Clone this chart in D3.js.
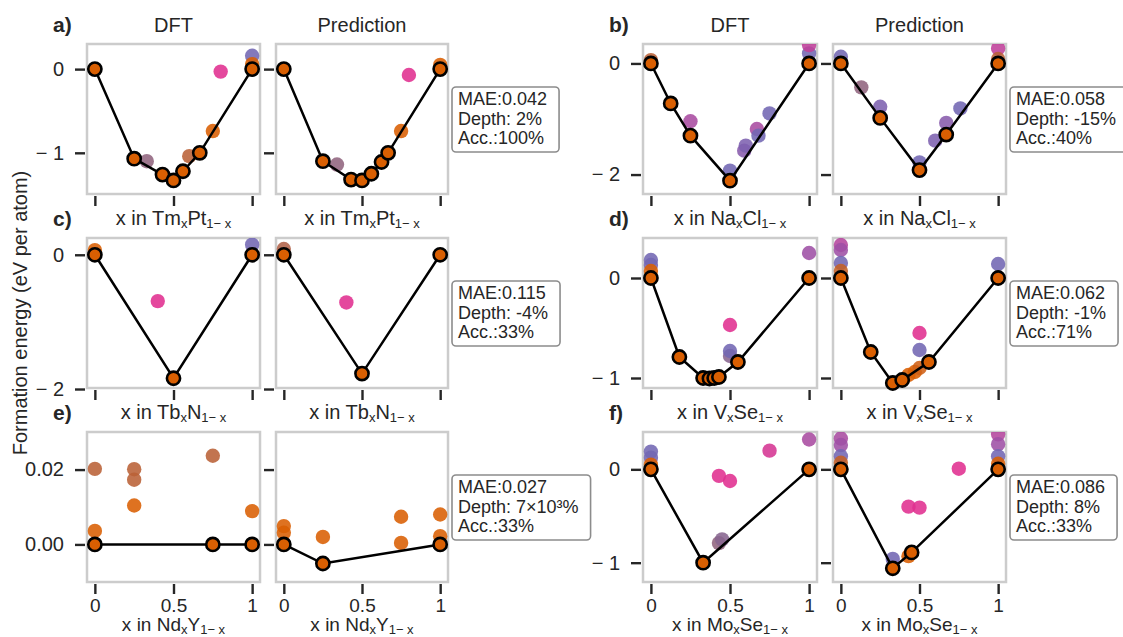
<!DOCTYPE html>
<html>
<head>
<meta charset="utf-8">
<script src="https://cdn.jsdelivr.net/npm/d3@7"></script>
<style>
  body { margin: 0; background: #fff; }
  svg { font-family: 'Liberation Sans', Arial, sans-serif; }
</style>
</head>
<body>
<div id="chart"></div>
<script>
// hull points are [x, E]; other points are [x, E, colour value 0..1]
const aDftHull = [[0, 0], [0.25, -1.07], [0.43, -1.26], [0.5, -1.33], [0.56, -1.22], [0.667, -1.0], [1, 0]];
const aDftOther = [[1, 0.16, 0.5], [1, 0.06, 0], [0.8, -0.03, 1], [0.75, -0.74, 0], [0.33, -1.10, 0.35], [0.6, -1.04, 0.15]];
const aPredHull = [[0, 0], [0.25, -1.10], [0.43, -1.32], [0.5, -1.33], [0.56, -1.25], [0.625, -1.11], [0.667, -1.0], [1, 0]];
const aPredOther = [[0.8, -0.07, 1], [0.75, -0.74, 0], [0.34, -1.14, 0.35], [1, 0.05, 0]];

const bDftHull = [[0, 0], [0.125, -0.72], [0.25, -1.30], [0.5, -2.11], [1, 0]];
const bDftOther = [[0, 0.06, 0.15], [0.25, -1.04, 0.75], [0.59, -1.57, 0.6], [0.6, -1.48, 0.55], [0.67, -1.18, 0.75],
  [0.68, -1.30, 0.5], [0.75, -0.90, 0.5], [0.5, -1.93, 0.5], [1, 0.18, 0.5], [1, 0.33, 0.85]];
const bPredHull = [[0, 0], [0.25, -0.98], [0.5, -1.92], [0.67, -1.28], [1, 0]];
const bPredOther = [[0, 0.12, 0.5], [0.13, -0.43, 0.35], [0.25, -0.78, 0.55], [0.5, -1.78, 0.5], [0.6, -1.39, 0.55],
  [0.67, -1.07, 0.6], [0.76, -0.81, 0.5], [1, 0.27, 0.85], [1, 0.08, 0.15]];

const cDftHull = [[0, 0], [0.5, -1.84], [1, 0]];
const cDftOther = [[0.4, -0.69, 1], [1, 0.15, 0.5], [0, 0.07, 0]];
const cPredHull = [[0, 0], [0.5, -1.77], [1, 0]];
const cPredOther = [[0.4, -0.71, 1], [0, 0.085, 0.2]];

const dDftHull = [[0, 0], [0.18, -0.79], [0.33, -1.0], [0.37, -1.005], [0.4, -1.0], [0.43, -0.99], [0.55, -0.84], [1, 0]];
const dDftOther = [[0, 0.18, 0.5], [0, 0.13, 0.5], [0, 0.07, 0], [1, 0.25, 0.7], [0.5, -0.47, 1], [0.5, -0.78, 0.4], [0.5, -0.73, 0.5]];
const dPredHull = [[0, 0], [0.19, -0.74], [0.33, -1.05], [0.39, -1.02], [0.56, -0.84], [1, 0]];
const dPredOther = [[0, 0.33, 0.8], [0, 0.28, 0.7], [0, 0.15, 0.5], [0, 0.07, 0.1], [1, 0.14, 0.5], [0.5, -0.55, 1],
  [0.5, -0.72, 0.5], [0.43, -0.97, 0], [0.47, -0.94, 0], [0.5, -0.9, 0.05]];

const eDftHull = [[0, 0], [0.75, 0], [1, 0]];
const eDftOther = [[0, 0.0202, 0.15], [0, 0.0036, 0], [0.25, 0.0201, 0.15], [0.25, 0.0173, 0.15], [0.25, 0.0104, 0],
  [0.75, 0.0237, 0.15], [1, 0.0089, 0]];
const ePredHull = [[0, 0], [0.25, -0.0051], [1, 0]];
const ePredOther = [[0, 0.0049, 0], [0, 0.0031, 0], [0.25, 0.002, 0], [0.75, 0.0074, 0], [0.75, 0.0004, 0], [1, 0.008, 0], [1, 0.0022, 0]];

const fDftHull = [[0, 0], [0.33, -1.0], [1, 0]];
const fDftOther = [[0, 0.19, 0.5], [0, 0.125, 0.5], [0, 0.05, 0], [0.43, -0.07, 1], [0.5, -0.125, 1], [0.75, 0.2, 0.95],
  [1, 0.32, 0.75], [0.43, -0.79, 0.35], [0.45, -0.75, 0.4]];
const fPredHull = [[0, 0], [0.33, -1.06], [0.45, -0.89], [1, 0]];
const fPredOther = [[0, 0.33, 0.75], [0, 0.26, 0.7], [0, 0.14, 0.5], [0, 0.07, 0.1], [1, 0.375, 0.8], [1, 0.27, 0.7],
  [1, 0.14, 0.5], [1, 0.06, 0], [0.75, 0.007, 1], [0.43, -0.4, 1], [0.5, -0.41, 1], [0.33, -0.96, 0.5], [0.43, -0.93, 0]];

const panelIds = ['a', 'b', 'c', 'd', 'e', 'f'];
const systems = [['Tm', 'Pt'], ['Na', 'Cl'], ['Tb', 'N'], ['V', 'Se'], ['Nd', 'Y'], ['Mo', 'Se']];
const columnTitles = ['DFT', 'Prediction'];
const yTickValues = [[-1, 0], [-2, 0], [-2, 0], [-1, 0], [0, 0.02], [-1, 0]];
const yLimits = [[-1.492, 0.30], [-2.35, 0.35], [-1.985, 0.25], [-1.10, 0.40], [-0.01004, 0.03004], [-1.207, 0.40]];
const xTickValues = [0, 0.5, 1];
const xTickLabels = ['0', '0.5', '1'];
const maeValues = ['0.042', '0.058', '0.115', '0.062', '0.027', '0.086'];
const depthValues = ['2%', '-15%', '-4%', '-1%', '7×10³%', '8%'];
const accValues = ['100%', '40%', '33%', '71%', '33%', '33%'];

const hullSets = [[aDftHull, aPredHull], [bDftHull, bPredHull], [cDftHull, cPredHull],
  [dDftHull, dPredHull], [eDftHull, ePredHull], [fDftHull, fPredHull]];
const otherSets = [[aDftOther, aPredOther], [bDftOther, bPredOther], [cDftOther, cPredOther],
  [dDftOther, dPredOther], [eDftOther, ePredOther], [fDftOther, fPredOther]];

const width = 1123;
const height = 637;
const colFrames = [[[87, 260], [276, 448]], [[643, 817], [833, 1006]]];
const rowFrames = [[44, 194], [238, 388], [432, 582]];
const orange = '#d95f02';
const tickColor = '#262626';
const frameColor = '#cccccc';
const colour = d3.scaleLinear().domain([0, 0.5, 1]).range([orange, '#7266b3', '#e02f8f']);

const svg = d3.select('#chart').append('svg')
  .attr('width', width)
  .attr('height', height);

const fmtY = (d, i) => {
  if (i === 4) return d3.format('.2f')(d);
  return d < 0 ? `\u2212 ${-d}` : `${d}`;
};

const addXLabel = (g, cx, y, el, size) => {
  const t = g.append('text').attr('x', cx).attr('y', y)
    .attr('text-anchor', 'middle').attr('font-size', size).attr('fill', '#262626');
  t.append('tspan').text(`x in ${el[0]}`);
  t.append('tspan').attr('font-size', 13).attr('dy', 3).text('x');
  t.append('tspan').attr('dy', -3).text(el[1]);
  t.append('tspan').attr('font-size', 13).attr('dy', 3).text('1\u2212 x');
};

panelIds.forEach((id, p) => {
  const row = Math.floor(p / 2);
  const col = p % 2;
  const [top, bottom] = rowFrames[row];
  const last = row === 2;

  const yScale = d3.scaleLinear().domain(yLimits[p]).range([bottom, top]);

  // panel letter
  svg.append('text')
    .attr('x', colFrames[col][0][0] - 34)
    .attr('y', top - 12)
    .attr('font-size', 21)
    .attr('font-weight', 'bold')
    .attr('fill', '#262626')
    .text(`${id})`);

  colFrames[col].forEach(([left, right], k) => {
    const xScale = d3.scaleLinear().domain([-0.05, 1.05]).range([left, right]);
    const g = svg.append('g');
    const clipId = `clip-${id}-${k}`;
    svg.append('clipPath').attr('id', clipId)
      .append('rect')
      .attr('x', left).attr('y', top)
      .attr('width', right - left).attr('height', bottom - top);

    // frame
    g.append('rect')
      .attr('x', left).attr('y', top)
      .attr('width', right - left).attr('height', bottom - top)
      .attr('fill', 'none')
      .attr('stroke', frameColor)
      .attr('stroke-width', 2.5);

    // y axis
    const yAxis = g.append('g')
      .attr('transform', `translate(${left - 2},0)`)
      .call(d3.axisLeft(yScale)
        .tickValues(yTickValues[p])
        .tickSize(10)
        .tickPadding(11)
        .tickFormat(k === 0 ? (d) => fmtY(d, p) : ''));
    yAxis.select('.domain').remove();
    yAxis.selectAll('line').attr('stroke', tickColor).attr('stroke-width', 2.4);
    yAxis.selectAll('text').attr('font-size', 20).attr('fill', '#262626')
      .attr('font-family', "'Liberation Sans', Arial, sans-serif");

    // x axis
    const xAxis = g.append('g')
      .attr('transform', `translate(0,${bottom + 2})`)
      .call(d3.axisBottom(xScale)
        .tickValues(xTickValues)
        .tickSize(10)
        .tickPadding(5)
        .tickFormat(last ? (d, i) => xTickLabels[i] : ''));
    xAxis.select('.domain').remove();
    xAxis.selectAll('line').attr('stroke', tickColor).attr('stroke-width', 2.4);
    xAxis.selectAll('text').attr('font-size', 19).attr('fill', '#262626')
      .attr('font-family', "'Liberation Sans', Arial, sans-serif");

    // other structures
    g.append('g').attr('clip-path', `url(#${clipId})`)
      .selectAll('circle')
      .data(otherSets[p][k])
      .enter()
      .append('circle')
      .attr('cx', (d) => xScale(d[0]))
      .attr('cy', (d) => yScale(d[1]))
      .attr('r', 7.2)
      .attr('fill', (d) => colour(d[2]))
      .attr('fill-opacity', 0.88);

    // hull line and points
    const line = d3.line().x((d) => xScale(d[0])).y((d) => yScale(d[1]));
    g.append('path')
      .attr('d', line(hullSets[p][k]))
      .attr('fill', 'none')
      .attr('stroke', '#000')
      .attr('stroke-width', 2.5);
    g.selectAll('.hull')
      .data(hullSets[p][k])
      .enter()
      .append('circle')
      .attr('class', 'hull')
      .attr('cx', (d) => xScale(d[0]))
      .attr('cy', (d) => yScale(d[1]))
      .attr('r', 6.6)
      .attr('fill', orange)
      .attr('stroke', '#000')
      .attr('stroke-width', 2.6);

    // titles
    if (row === 0) {
      svg.append('text')
        .attr('x', (left + right) / 2)
        .attr('y', 32)
        .attr('text-anchor', 'middle')
        .attr('font-size', 20)
        .attr('fill', '#262626')
        .text(columnTitles[k]);
    }
    addXLabel(svg, (left + right) / 2, last ? bottom + 49 : bottom + 31, systems[p], last ? 19 : 20);
  });

  // metrics box
  const boxX = colFrames[col][1][1] + 4;
  const boxY = top + 43;
  const box = svg.append('g');
  const rect = box.append('rect');
  const lines = [`MAE:${maeValues[p]}`, `Depth: ${depthValues[p]}`, `Acc.:${accValues[p]}`];
  let maxW = 0;
  lines.forEach((s, i) => {
    const t = box.append('text')
      .attr('x', boxX + 6)
      .attr('y', boxY + 18 + i * 19.5)
      .attr('font-size', 18)
      .attr('fill', '#262626')
      .text(s);
    maxW = Math.max(maxW, t.node().getComputedTextLength());
  });
  rect.attr('x', boxX).attr('y', boxY)
    .attr('width', maxW + 18).attr('height', 65)
    .attr('rx', 4)
    .attr('fill', '#fff')
    .attr('stroke', '#8c8c8c')
    .attr('stroke-width', 1.6);
});

// shared y label
svg.append('text')
  .attr('transform', `translate(27,${(rowFrames[0][0] + rowFrames[2][1]) / 2}) rotate(-90)`)
  .attr('text-anchor', 'middle')
  .attr('font-size', 20)
  .attr('fill', '#262626')
  .text('Formation energy (eV per atom)');
</script>
</body>
</html>
